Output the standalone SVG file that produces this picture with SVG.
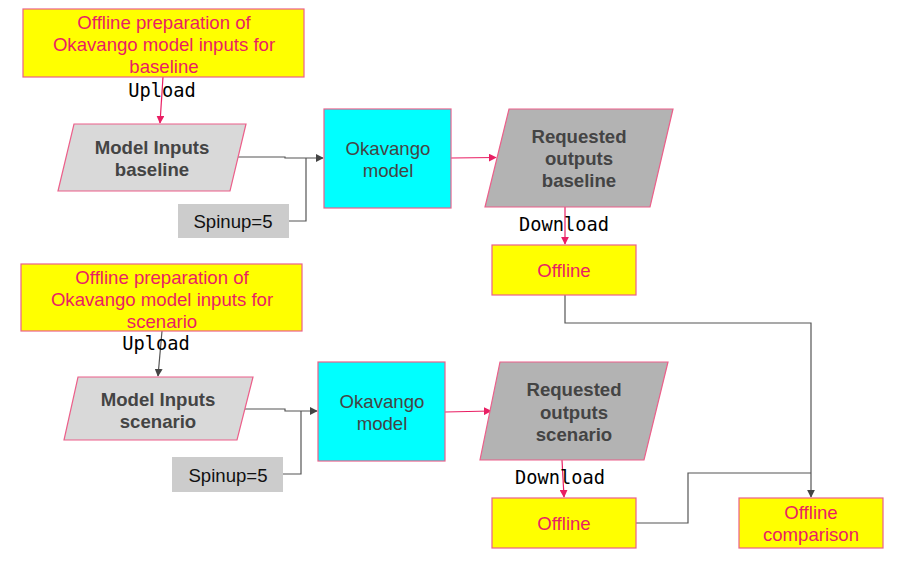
<svg xmlns="http://www.w3.org/2000/svg" width="901" height="572" viewBox="0 0 901 572">
<style>
.yb{fill:#ffff00;stroke:#ec5f8a;stroke-width:1.2}
.yt{fill:#e91e63;font-family:"Liberation Sans",Arial,sans-serif;font-size:18.6px;text-anchor:middle}
.pg{fill:#d9d9d9;stroke:#ec5f8a;stroke-width:1.2}
.pg2{fill:#b3b3b3;stroke:#ec5f8a;stroke-width:1.2}
.bt{fill:#444;font-family:"Liberation Sans",Arial,sans-serif;font-size:18.6px;font-weight:bold;text-anchor:middle}
.cy{fill:#00ffff;stroke:#ec5f8a;stroke-width:1.2}
.ct{fill:#444;font-family:"Liberation Sans",Arial,sans-serif;font-size:18.6px;text-anchor:middle}
.sp{fill:#cccccc}
.st{fill:#111;font-family:"Liberation Sans",Arial,sans-serif;font-size:18.6px;text-anchor:middle}
.lbl{fill:#000;font-family:"DejaVu Sans Mono",monospace;font-size:18.7px;text-anchor:middle}
.pl{fill:none;stroke:#e91e63;stroke-width:1.2}
.gl{fill:none;stroke:#555;stroke-width:1.2}
</style>
<defs>
<marker id="ap" viewBox="0 0 10 10" refX="9" refY="5" markerWidth="8" markerHeight="8" markerUnits="userSpaceOnUse" orient="auto"><path d="M0,0 L10,5 L0,10 z" fill="#e91e63"/></marker>
<marker id="ag" viewBox="0 0 10 10" refX="9" refY="5" markerWidth="8" markerHeight="8" markerUnits="userSpaceOnUse" orient="auto"><path d="M0,0 L10,5 L0,10 z" fill="#444"/></marker>
</defs>
<g id="connectors">
<path class="pl" d="M163,77 L160,123" marker-end="url(#ap)"/>
<path class="gl" d="M238,157 L285,157 L285,158 L323,158" marker-end="url(#ag)"/>
<path class="gl" d="M289,221 L306,221 L306,158"/>
<path class="pl" d="M451,158 L496,157.5" marker-end="url(#ap)"/>
<path class="pl" d="M565,207 L565,244" marker-end="url(#ap)"/>
<path class="gl" d="M565,295 L565,323 L811,323 L811,497" marker-end="url(#ag)"/>
<path class="gl" d="M162,331 L158,376" marker-end="url(#ag)"/>
<path class="gl" d="M245,409 L285,409 L285,411 L317,411" marker-end="url(#ag)"/>
<path class="gl" d="M283,474 L301,474 L301,411"/>
<path class="pl" d="M445,412 L491,411" marker-end="url(#ap)"/>
<path class="pl" d="M562,460 L564,497" marker-end="url(#ap)"/>
<path class="gl" d="M636,523 L688,523 L688,473 L811,473"/>
<text class="lbl" x="162" y="97">Upload</text>
<text class="lbl" x="564" y="231">Download</text>
<text class="lbl" x="156" y="350">Upload</text>
<text class="lbl" x="560" y="484">Download</text>
</g>
<g id="prep-baseline">
<rect class="yb" x="23" y="9" width="281" height="68"/>
<text class="yt" x="164" y="28.5">Offline preparation of</text>
<text class="yt" x="164" y="50.5">Okavango model inputs for</text>
<text class="yt" x="164" y="72.5">baseline</text>
</g>
<g id="inputs-baseline">
<polygon class="pg" points="74,124 246,124 230,191 58,191"/>
<text class="bt" x="152" y="153.5">Model Inputs</text>
<text class="bt" x="152" y="175.5">baseline</text>
</g>
<g id="spinup-baseline">
<rect class="sp" x="178" y="204" width="111" height="34"/>
<text class="st" x="233" y="227.5">Spinup=5</text>
</g>
<g id="model-baseline">
<rect class="cy" x="324" y="109" width="127" height="99"/>
<text class="ct" x="388" y="154.5">Okavango</text>
<text class="ct" x="388" y="176.5">model</text>
</g>
<g id="outputs-baseline">
<polygon class="pg2" points="509,109 673,109 650,207 485,207"/>
<text class="bt" x="579" y="142.5">Requested</text>
<text class="bt" x="579" y="164.5">outputs</text>
<text class="bt" x="579" y="186.5">baseline</text>
</g>
<g id="offline-baseline">
<rect class="yb" x="492" y="245" width="144" height="50"/>
<text class="yt" x="564" y="276.5">Offline</text>
</g>
<g id="prep-scenario">
<rect class="yb" x="21" y="264" width="281" height="67"/>
<text class="yt" x="162" y="283.5">Offline preparation of</text>
<text class="yt" x="162" y="305.5">Okavango model inputs for</text>
<text class="yt" x="162" y="327.5">scenario</text>
</g>
<g id="inputs-scenario">
<polygon class="pg" points="78,377 253,377 237,440 64,440"/>
<text class="bt" x="158" y="405.5">Model Inputs</text>
<text class="bt" x="158" y="427.5">scenario</text>
</g>
<g id="spinup-scenario">
<rect class="sp" x="172" y="457" width="111" height="35"/>
<text class="st" x="228" y="481.5">Spinup=5</text>
</g>
<g id="model-scenario">
<rect class="cy" x="318" y="362" width="127" height="99"/>
<text class="ct" x="382" y="407.5">Okavango</text>
<text class="ct" x="382" y="429.5">model</text>
</g>
<g id="outputs-scenario">
<polygon class="pg2" points="500,362 668,362 644,460 480,460"/>
<text class="bt" x="574" y="395.5">Requested</text>
<text class="bt" x="574" y="418.5">outputs</text>
<text class="bt" x="574" y="440.5">scenario</text>
</g>
<g id="offline-scenario">
<rect class="yb" x="492" y="498" width="144" height="50"/>
<text class="yt" x="564" y="529.5">Offline</text>
</g>
<g id="offline-comparison">
<rect class="yb" x="739" y="498" width="144" height="50"/>
<text class="yt" x="811" y="518.5">Offline</text>
<text class="yt" x="811" y="540.5">comparison</text>
</g>
</svg>
